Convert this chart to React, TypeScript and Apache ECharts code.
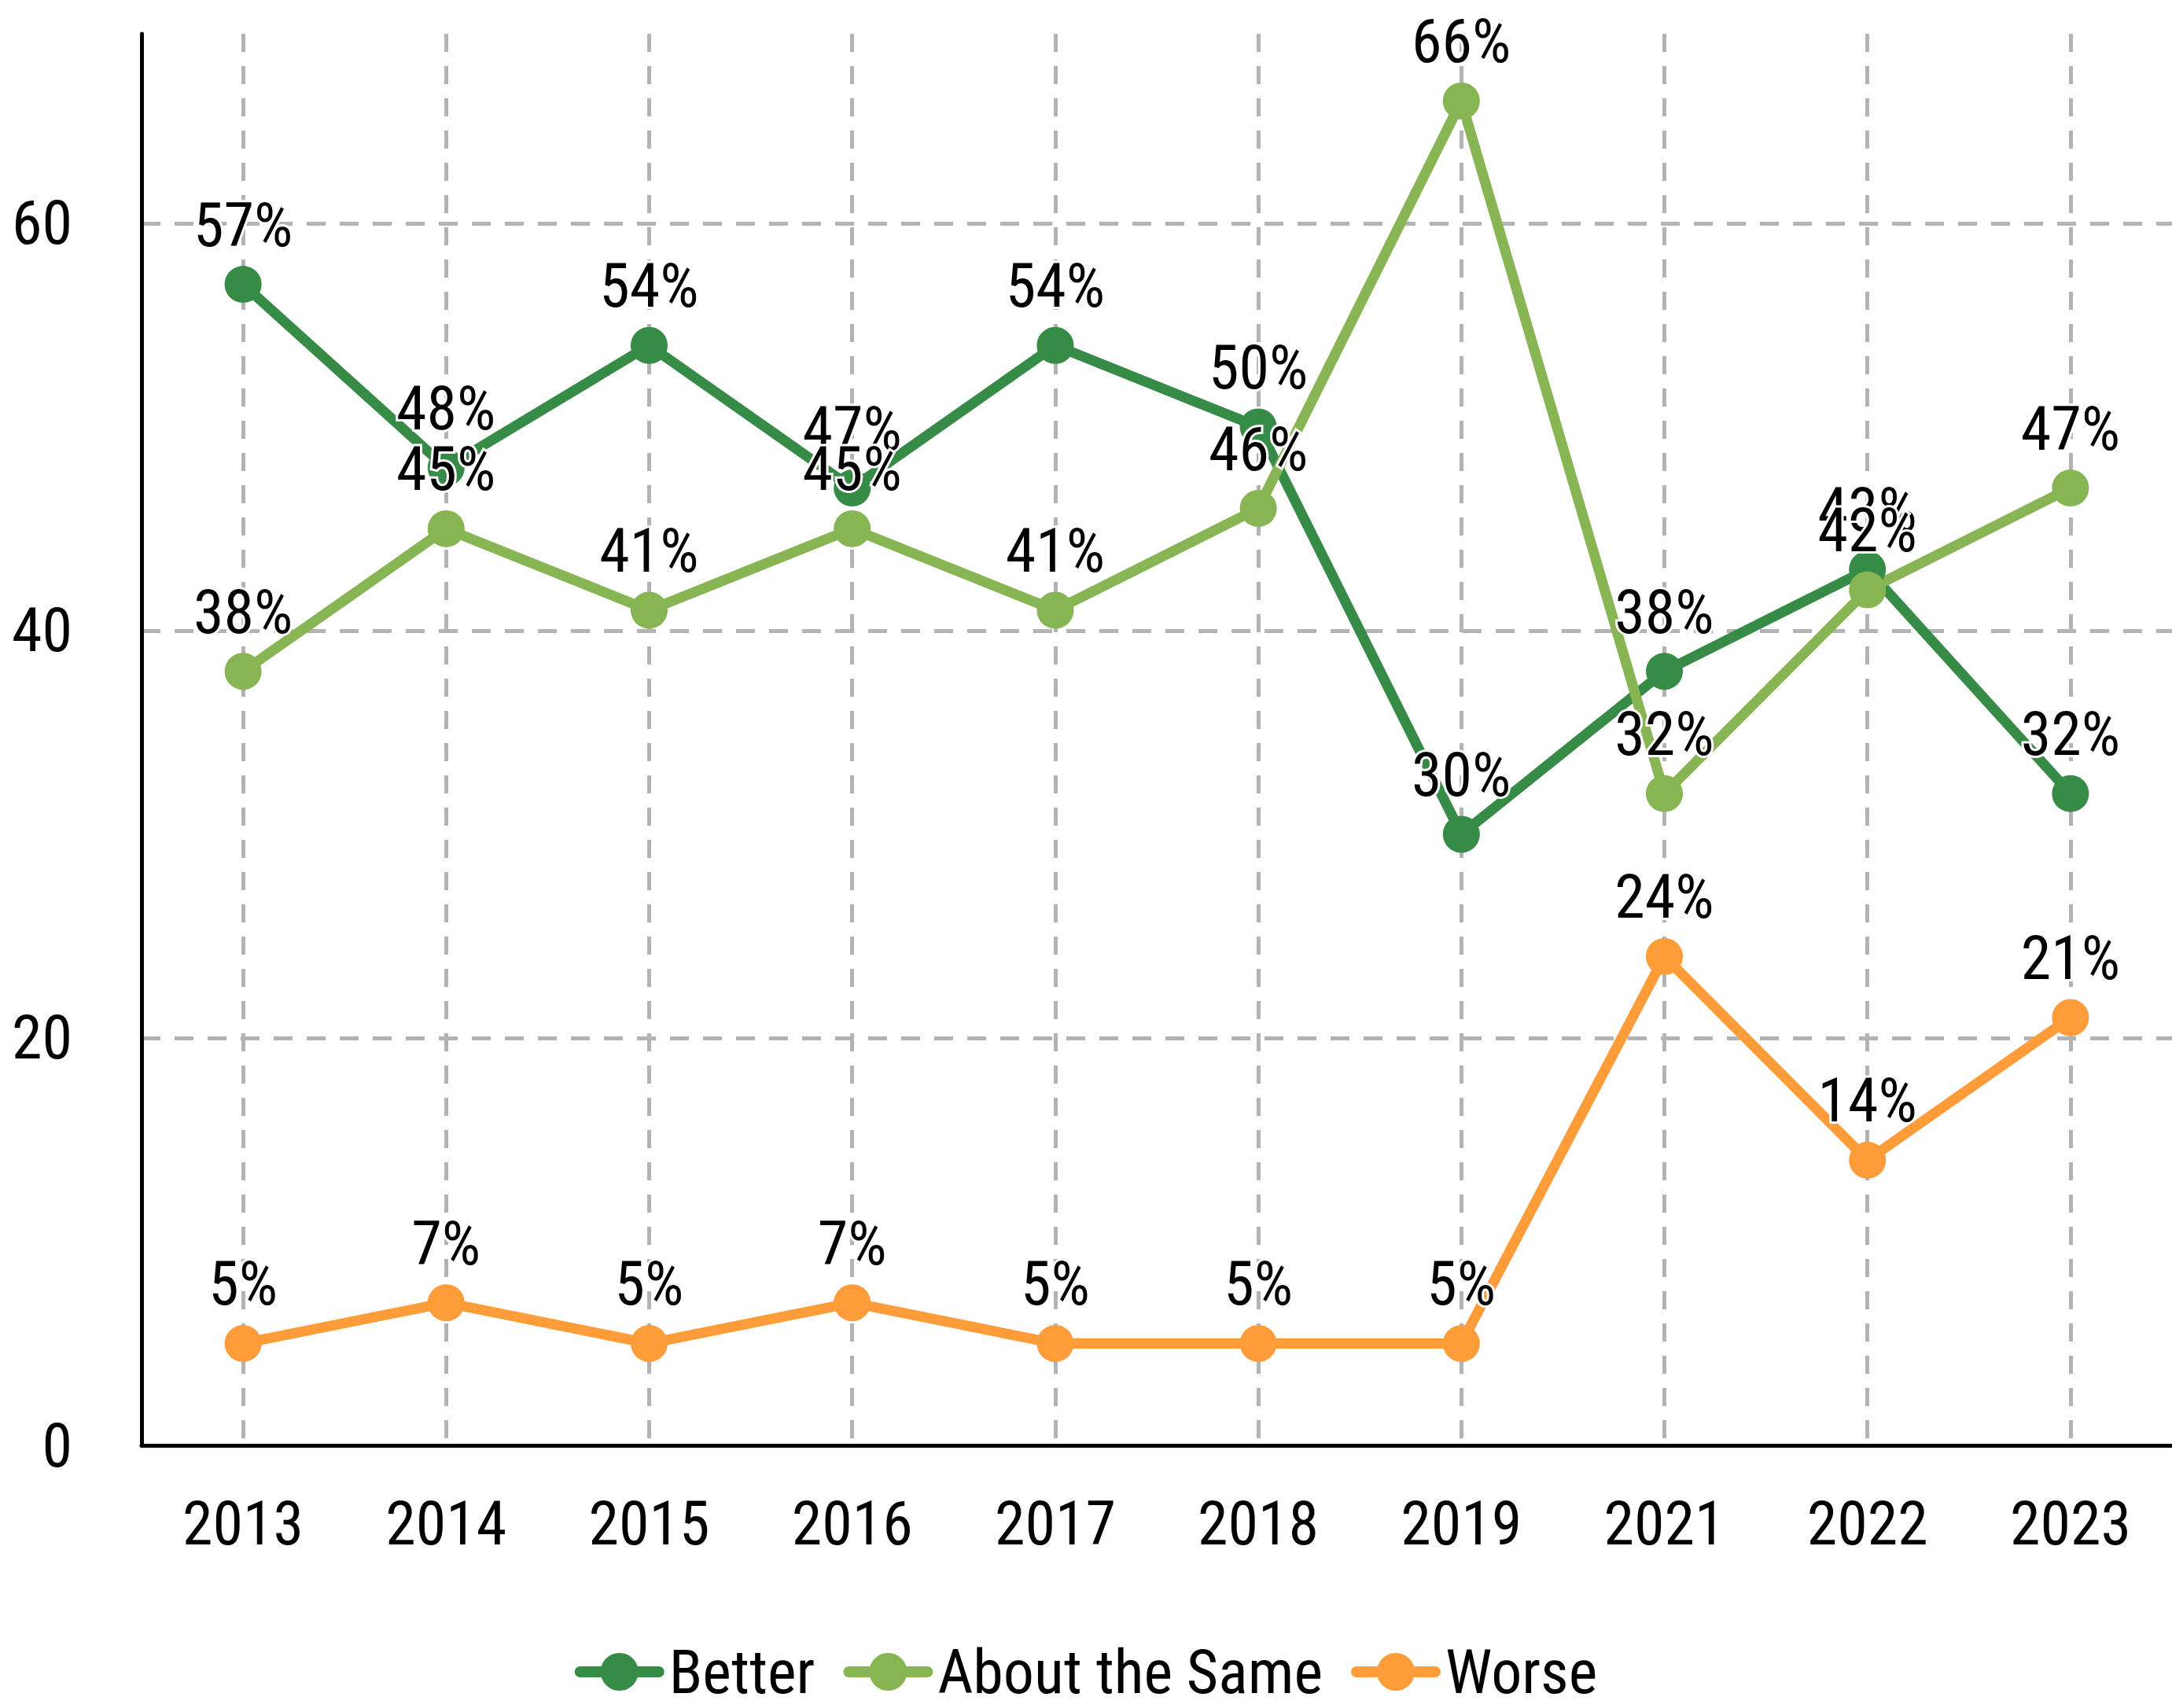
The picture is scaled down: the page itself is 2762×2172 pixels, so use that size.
import React, { useEffect, useRef } from "react";
import * as echarts from "echarts";

const years = ["2013", "2014", "2015", "2016", "2017", "2018", "2019", "2021", "2022", "2023"];
const better = [57, 48, 54, 47, 54, 50, 30, 38, 43, 32];
const aboutSame = [38, 45, 41, 45, 41, 46, 66, 32, 42, 47];
const worse = [5, 7, 5, 7, 5, 5, 5, 24, 14, 21];
const seriesNames = ["Better", "About the Same", "Worse"];
const colors = ["#368B46", "#88B553", "#FF9C3A"];

const FONT = "'Roboto Condensed', 'Liberation Sans Narrow', 'DejaVu Sans Condensed', sans-serif";
const FS = 78;

export default function App() {
  const ref = useRef<HTMLDivElement>(null);
  useEffect(() => {
    document.body.style.margin = "0";
    if (!ref.current) return;
    const chart = echarts.init(ref.current, undefined, { renderer: "svg" });
    const mk = (name: string, data: number[], color: string) => ({
      name,
      type: "line",
      data,
      symbol: "circle",
      symbolSize: 47,
      itemStyle: { color },
      lineStyle: { color, width: 13 },
      label: {
        show: true,
        position: "top",
        distance: 13,
        formatter: "{c}%",
        fontFamily: FONT,
        fontSize: FS,
        color: "#000",
        textBorderColor: "#fff",
        textBorderWidth: 6,
      },
    });
    chart.setOption({
      animation: false,
      backgroundColor: "#fff",
      textStyle: { fontFamily: FONT },
      grid: { left: 180, right: 0, top: 43, bottom: 334, containLabel: false },
      legend: {
        top: 2082,
        left: "center",
        itemWidth: 100,
        itemHeight: 60,
        itemGap: 36,
        lineStyle: { width: 14, cap: "round" },
        textStyle: {
          fontFamily: FONT,
          fontSize: FS,
          color: "#000",
          padding: [0, 0, 0, 8],
        },
        data: seriesNames,
      },
      xAxis: {
        type: "category",
        data: years,
        boundaryGap: true,
        axisLine: { lineStyle: { color: "#000", width: 5 } },
        axisTick: { show: false },
        axisLabel: { fontFamily: FONT, fontSize: FS, color: "#000", margin: 60 },
        splitLine: {
          show: true,
          alignWithLabel: true,
          lineStyle: { color: "#b3b3b3", width: 5, type: [23, 18] },
        },
      },
      yAxis: {
        type: "value",
        min: 0,
        max: 69.3,
        interval: 20,
        axisLine: { show: true, lineStyle: { color: "#000", width: 5 } },
        axisTick: { show: false },
        axisLabel: { fontFamily: FONT, fontSize: FS, color: "#000", margin: 88, showMaxLabel: false },
        splitLine: {
          show: true,
          showMinLine: false,
          showMaxLine: false,
          lineStyle: { color: "#b3b3b3", width: 5, type: [24, 18] },
        },
      },
      series: [
        mk(seriesNames[0], better, colors[0]),
        mk(seriesNames[1], aboutSame, colors[1]),
        mk(seriesNames[2], worse, colors[2]),
      ],
    });
    return () => chart.dispose();
  }, []);
  return <div ref={ref} style={{ width: 2762, height: 2172 }} />;
}
